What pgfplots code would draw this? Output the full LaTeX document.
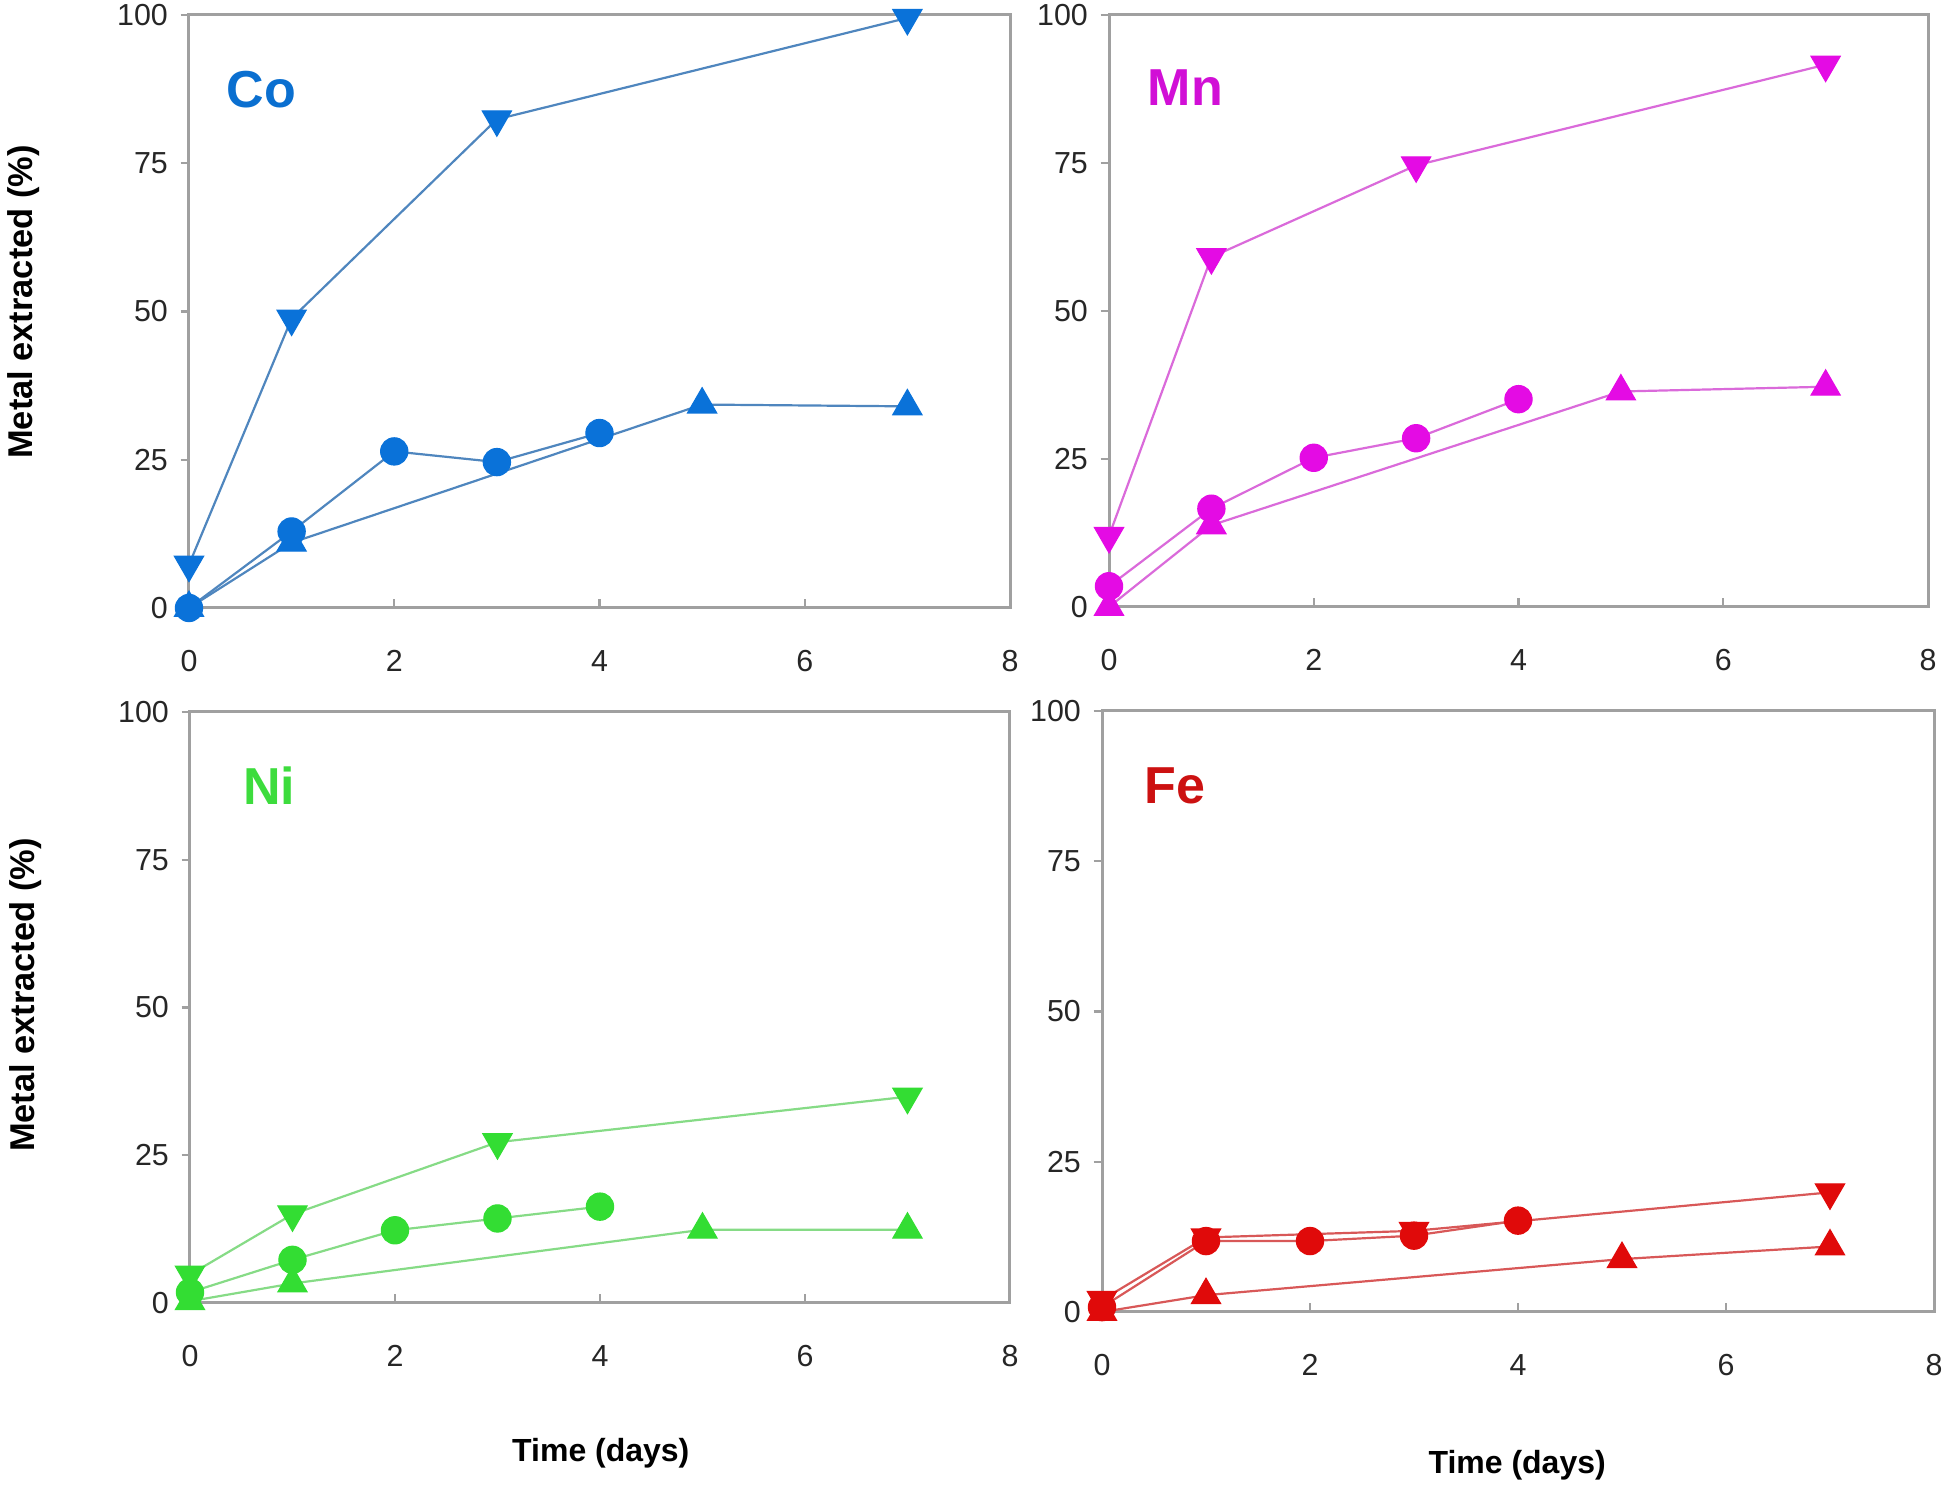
\documentclass[border=0pt]{standalone}
\usepackage{pgfplots}
\pgfplotsset{compat=1.18}
\usepackage{fontspec}
\setmainfont{Liberation Sans}

\definecolor{framegray}{HTML}{A0A0A0}
\definecolor{coM}{HTML}{0A72D9}
\definecolor{coL}{HTML}{4F86BE}
\definecolor{coT}{HTML}{0A6FD0}
\definecolor{mnM}{HTML}{E40BE4}
\definecolor{mnL}{HTML}{DA6ADA}
\definecolor{mnT}{HTML}{D10FD6}
\definecolor{niM}{HTML}{33DD33}
\definecolor{niL}{HTML}{86DB86}
\definecolor{niT}{HTML}{3DDC3D}
\definecolor{feM}{HTML}{E00A0A}
\definecolor{feL}{HTML}{D85858}
\definecolor{feT}{HTML}{CC1111}

\tikzset{lab/.style={anchor=west, inner sep=0pt, font=\bfseries\fontsize{13}{15}\selectfont}}

\pgfplotsset{
  panel/.style={
    scale only axis, anchor=south west,
    xmin=0, xmax=8, ymin=0, ymax=100,
    xtick={0,2,4,6,8}, ytick={0,25,50,75,100},
    xtick pos=bottom, ytick pos=left,
    axis line style={draw=framegray, line width=0.75pt},
    tick style={draw=framegray, line width=0.6pt},
    tick align=inside, major tick length=2.25pt,
    ytick style={xshift=-2.1pt},
    /pgf/number format/assume math mode=true,
    xticklabel style={yshift=-7pt, font=\fontsize{7.6}{9}\selectfont, text=black!85},
    yticklabel style={xshift=-1.75pt, font=\fontsize{7.6}{9}\selectfont, text=black!85},
    xlabel style={font=\bfseries\fontsize{8}{10}\selectfont},
    ylabel style={font=\bfseries\fontsize{8.6}{10}\selectfont},
    clip=false,
    every axis plot/.append style={line width=0.55pt},
  },
  dn/.style={mark=triangle*, mark size=4.2pt, mark options={rotate=180, fill=#1, draw=#1, line width=0.3pt}},
  up/.style={mark=triangle*, mark size=4.2pt, mark options={fill=#1, draw=#1, line width=0.3pt}},
  ci/.style={mark=*, mark size=3.4pt, mark options={fill=#1, draw=#1, line width=0.3pt}},
}

\begin{document}
\begin{tikzpicture}
\path[use as bounding box] (0,0) rectangle (487.5pt,373.5pt);

% ---------------- Co ----------------
\begin{axis}[panel, at={(47.25pt,221.5pt)}, width=205.25pt, height=148.25pt,
  ylabel={Metal extracted (\%)},
  ylabel style={at={(axis description cs:-0.202,0.516)}, anchor=center}]
\addplot[coL, dn=coM] coordinates {(0,7.3) (1,48.8) (3,82.4) (7,99.5)};
\addplot[coL, up=coM] coordinates {(0,0) (1,11) (5,34.3) (7,34)};
\addplot[coL, ci=coM] coordinates {(0,0) (1,12.9) (2,26.4) (3,24.6) (4,29.5)};
\node[lab, text=coT] at (axis cs:0.36,87.4) {Co};
\end{axis}

% ---------------- Mn ----------------
\begin{axis}[panel, at={(277.25pt,221.75pt)}, width=204.75pt, height=148pt]
\addplot[mnL, dn=mnM] coordinates {(0,12) (1,59.1) (3,74.6) (7,91.6)};
\addplot[mnL, up=mnM] coordinates {(0,0) (1,13.8) (5,36.4) (7,37.2)};
\addplot[mnL, ci=mnM] coordinates {(0,3.5) (1,16.6) (2,25.2) (3,28.5) (4,35.1)};
\node[lab, text=mnT] at (axis cs:0.37,87.8) {Mn};
\end{axis}

% ---------------- Ni ----------------
\begin{axis}[panel, at={(47.5pt,47.75pt)}, width=205pt, height=147.75pt,
  ylabel={Metal extracted (\%)},
  ylabel style={at={(axis description cs:-0.201,0.521)}, anchor=center},
  xlabel={Time (days)},
  xlabel style={at={(axis description cs:0.501,-0.254)}, anchor=center}]
\addplot[niL, dn=niM] coordinates {(0,4.8) (1,15) (3,27.2) (7,34.9)};
\addplot[niL, up=niM] coordinates {(0,0.3) (1,3.3) (5,12.4) (7,12.4)};
\addplot[niL, ci=niM] coordinates {(0,1.8) (1,7.3) (2,12.3) (3,14.3) (4,16.3)};
\node[lab, text=niT] at (axis cs:0.51,87.5) {Ni};
\end{axis}

% ---------------- Fe ----------------
\begin{axis}[panel, at={(275.5pt,45.5pt)}, width=208pt, height=150.25pt,
  xlabel={Time (days)},
  xlabel style={at={(axis description cs:0.499,-0.255)}, anchor=center}]
\addplot[feL, dn=feM] coordinates {(0,2) (1,12.4) (3,13.5) (7,19.9)};
\addplot[feL, up=feM] coordinates {(0,0) (1,2.8) (5,8.8) (7,10.9)};
\addplot[feL, ci=feM] coordinates {(0,0.8) (1,11.8) (2,11.8) (3,12.7) (4,15.2)};
\node[lab, text=feT] at (axis cs:0.40,87.5) {Fe};
\end{axis}
\end{tikzpicture}
\end{document}
